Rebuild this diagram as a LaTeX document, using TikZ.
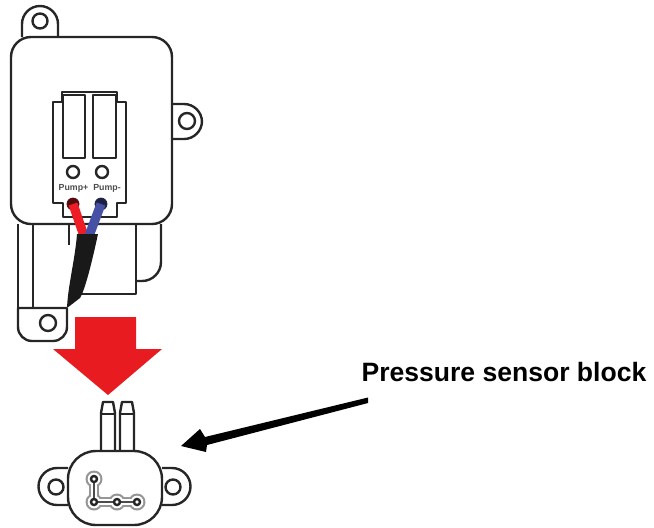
\documentclass[tikz,border=0pt]{standalone}
\usepackage{fontspec}
\setmainfont{Liberation Sans}
\definecolor{pumpred}{RGB}{238,28,37}
\definecolor{pumpblue}{RGB}{70,80,165}
\definecolor{arrowred}{RGB}{232,28,32}
\definecolor{traceline}{RGB}{150,150,150}
\begin{document}
\begin{tikzpicture}[x=0.5pt,y=-0.5pt,
    outline/.style={line width=1.2pt,black!85,line join=round},
    hole/.style={outline,fill=white},
    pad/.style={fill=white,draw=black!85,line width=1.2pt},
    pumplabel/.style={font=\bfseries\fontsize{4.4}{5}\selectfont,text=black!70,inner sep=0pt}]
    \useasboundingbox (0,0) rectangle (654,527);
    % lower housing behind the main body
    \draw[outline] (18,224) -- (18,308);
    \draw[outline] (33,224) -- (33,308);
    \draw[outline] (69,224) -- (69,245);
    \draw[outline] (136,224) -- (136,294) -- (80,294);
    \draw[outline] (161,224) -- (161,262) arc (0:90:19) -- (136,281);
    % bottom tab
    \draw[outline] (67,308) -- (18,308) [rounded corners=7] -- (18,341) -- (67,341) [sharp corners] -- (67,308);
    \draw[hole] (48,323) circle (8);
    % top and right tabs
    \draw[outline,rounded corners=9] (22,37) -- (22,6) -- (58,6) -- (58,37);
    \draw[hole] (40,21) circle (7.5);
    \draw[outline,rounded corners=9] (172,104) -- (202,104) -- (202,139) -- (172,139);
    \draw[hole] (187,121) circle (8);
    % main body
    \draw[outline,fill=white,rounded corners=10] (11,37) rectangle (172,224);
    % terminal panel
    \draw[outline] (53,102) -- (62,102) -- (62,92) -- (117,92) -- (117,102) -- (126,102)
      -- (126,203) -- (117,203) -- (117,217) -- (63,217) -- (63,203) -- (53,203) -- cycle;
    \draw[outline] (63,95) rectangle (85,158);
    \draw[outline] (93,95) rectangle (116,158);
    \draw[hole] (73,172) circle (6);
    \draw[hole] (102,172) circle (6);
    \node[pumplabel] (pumpplus) at (73.5,188) {Pump+};
    \node[pumplabel] (pumpminus) at (107,188) {Pump-};
    % wires
    \filldraw[black!65!pumpred] (73,204) circle (6);
    \filldraw[black!60!pumpblue] (101,204) circle (6);
    \draw[pumpred,line width=4.6pt] (73,204) -- (84,236);
    \draw[pumpblue,line width=4.6pt] (101,204) -- (89,236);
    \fill[black!90] (77,234) -- (98,234) .. controls (92,262) and (85,290) .. (80,298)
      -- (67,308) .. controls (68,285) and (75,260) .. cycle;
    % big red arrow
    \fill[arrowred] (75,317) -- (136,317) -- (136,349) -- (162,349) -- (108,395)
      -- (53,349) -- (75,349) -- cycle;
    % sensor ports
    \draw[outline] (101,451) -- (101,413) -- (103,402) -- (113,402) -- (115,413) -- (115,451);
    \draw[outline] (101,414) -- (115,414);
    \draw[outline] (120,451) -- (120,413) -- (122,402) -- (132,402) -- (134,413) -- (134,451);
    \draw[outline] (120,414) -- (134,414);
    % sensor side lobes
    \draw[outline] (68,468) -- (57,468) arc (270:90:18.5) -- (68,505);
    \draw[hole] (56,487) circle (7.5);
    \draw[outline] (162,468) -- (172,468) arc (-90:90:18.5) -- (162,505);
    \draw[hole] (173,487) circle (7.5);
    % sensor body
    \draw[outline,fill=white,rounded corners=14] (68,451) rectangle (162,525);
    % solder pads
    \draw[traceline,line width=5pt,line join=round] (94,479) -- (94,502) -- (137,502);
    \foreach \px/\py in {94/479,94/502,117/502,137/502} \fill[traceline] (\px,\py) circle (8.5);
    \draw[white,line width=3pt,line join=round] (94,479) -- (94,502) -- (137,502);
    \foreach \px/\py in {94/479,94/502,117/502,137/502} \fill[white] (\px,\py) circle (6.3);
    \draw[black!70,line width=0.7pt] (94,479) -- (94,502) -- (137,502);
    \foreach \px/\py in {94/479,94/502,117/502,137/502} \draw[pad] (\px,\py) circle (3);
    % callout
    \node[font=\bfseries\fontsize{13.27}{16}\selectfont,inner sep=0pt,anchor=base] (blocklabel) at (504,381) {Pressure sensor block};
    \coordinate (calloutend) at (368,397.5);
    \coordinate (callouttip) at (181,446);
    \fill[black] (calloutend) -- (368,403) -- (207,445) -- (206,452) -- (callouttip) -- (200,429) -- (205,437) -- cycle;
\end{tikzpicture}
\end{document}
